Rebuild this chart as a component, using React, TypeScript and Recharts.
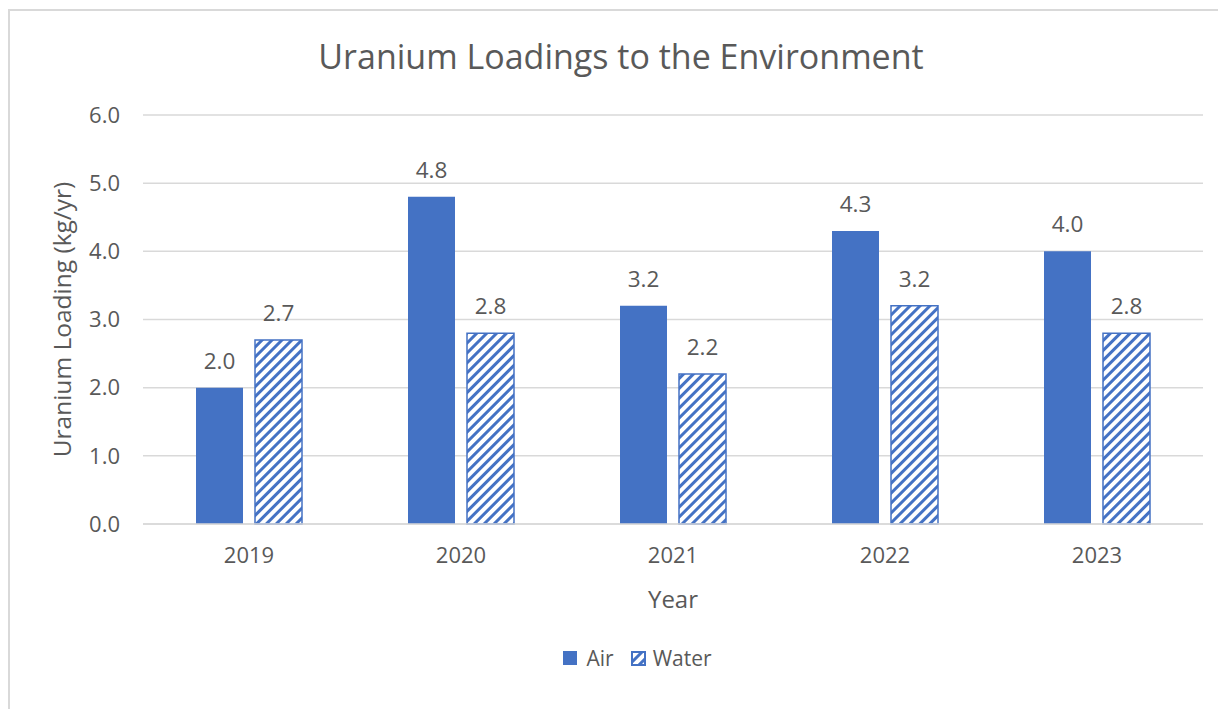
import React from 'react';
import { BarChart, Bar, XAxis, YAxis, CartesianGrid, LabelList, Legend } from 'recharts';

const years = ['2019', '2020', '2021', '2022', '2023'];
const airValues = [2.0, 4.8, 3.2, 4.3, 4.0];
const waterValues = [2.7, 2.8, 2.2, 3.2, 2.8];
const yTicks = [0, 1, 2, 3, 4, 5, 6];

const data = years.map((y, i) => ({ year: y, Air: airValues[i], Water: waterValues[i] }));

const BLUE = '#4472C4';
const TEXT = '#595959';
const GRID = '#d9d9d9';
const FONT = '"Open Sans", "Noto Sans", sans-serif';

const fmt = (v: number) => v.toFixed(1);

const LegendContent = () => (
  <div style={{ display: 'flex', justifyContent: 'center', alignItems: 'center', height: 30, paddingLeft: 64, boxSizing: 'border-box', fontFamily: FONT, fontSize: 21, color: TEXT }}>
    <svg width={14} height={14} style={{ marginRight: 9 }}>
      <rect x={0} y={0} width={14} height={14} fill={BLUE} />
    </svg>
    <span style={{ marginRight: 17 }}>Air</span>
    <svg width={15} height={15} style={{ marginRight: 7 }}>
      <defs>
        <pattern id="legHatch" patternUnits="userSpaceOnUse" width={7} height={7} patternTransform="rotate(45)">
          <rect x={0} y={0} width={7} height={7} fill="#ffffff" />
          <rect x={0} y={0} width={3} height={7} fill={BLUE} />
        </pattern>
      </defs>
      <rect x={1} y={1} width={13} height={13} fill="url(#legHatch)" stroke={BLUE} strokeWidth={2} />
    </svg>
    <span>Water</span>
  </div>
);

export default function App() {
  return (
    <div style={{ position: 'relative', width: 1218, height: 701 }}>
      <div style={{ position: 'absolute', left: 0, top: 1, width: 1218, height: 700, borderTop: `2px solid ${GRID}`, borderLeft: `2px solid ${GRID}`, boxSizing: 'border-box' }} />
      <div style={{ position: 'absolute', left: 0, top: 30, width: 1226, textAlign: 'center', fontFamily: FONT, fontSize: 34, color: TEXT, lineHeight: '36px' }}>
        Uranium Loadings to the Environment
      </div>
      <div style={{ position: 'absolute', left: 0, top: 0 }}>
        <BarChart
          width={1218}
          height={701}
          data={data}
          margin={{ top: 107, right: 23, left: 0, bottom: 0 }}
          barSize={47}
          barGap={12}
        >
          <defs>
            <pattern id="waterHatch" patternUnits="userSpaceOnUse" width={7} height={7} patternTransform="rotate(45)">
              <rect x={0} y={0} width={7} height={7} fill="#ffffff" />
              <rect x={0} y={0} width={3} height={7} fill={BLUE} />
            </pattern>
          </defs>
          <CartesianGrid vertical={false} stroke={GRID} strokeWidth={1.5} />
          <XAxis
            dataKey="year"
            height={155}
            axisLine={{ stroke: GRID, strokeWidth: 1.5 }}
            tickLine={false}
            tickMargin={17}
            tick={{ fill: TEXT, fontSize: 22, fontFamily: FONT }}
            label={{
              content: (props: any) => {
                const vb = props.viewBox;
                return (
                  <text x={vb.x + vb.width / 2} y={vb.y + 76} dy="0.35em" textAnchor="middle" fill={TEXT} fontSize={24} fontFamily={FONT}>
                    Year
                  </text>
                );
              },
            }}
          />
          <YAxis
            width={135}
            domain={[0, 6]}
            ticks={yTicks}
            interval={0}
            axisLine={false}
            tickLine={false}
            tickMargin={17}
            tickFormatter={fmt}
            tick={{ fill: TEXT, fontSize: 22, fontFamily: FONT }}
            label={{
              content: (props: any) => {
                const vb = props.viewBox;
                const cx = vb.x + 54;
                const cy = vb.y + vb.height / 2;
                return (
                  <text x={cx} y={cy} dy="0.35em" textAnchor="middle" transform={`rotate(-90 ${cx} ${cy})`} fill={TEXT} fontSize={24.5} fontFamily={FONT}>
                    Uranium Loading (kg/yr)
                  </text>
                );
              },
            }}
          />
          <Legend
            verticalAlign="bottom"
            content={<LegendContent />}
            wrapperStyle={{ top: 635, bottom: 'auto', height: 30 }}
          />
          <Bar dataKey="Air" fill={BLUE} isAnimationActive={false}>
            <LabelList dataKey="Air" position="top" offset={19} formatter={(v: any) => fmt(Number(v))} fill={TEXT} fontSize={22.5} fontFamily={FONT} />
          </Bar>
          <Bar dataKey="Water" fill="url(#waterHatch)" stroke={BLUE} strokeWidth={1.5} isAnimationActive={false}>
            <LabelList dataKey="Water" position="top" offset={19} formatter={(v: any) => fmt(Number(v))} fill={TEXT} fontSize={22.5} fontFamily={FONT} />
          </Bar>
        </BarChart>
      </div>
    </div>
  );
}
